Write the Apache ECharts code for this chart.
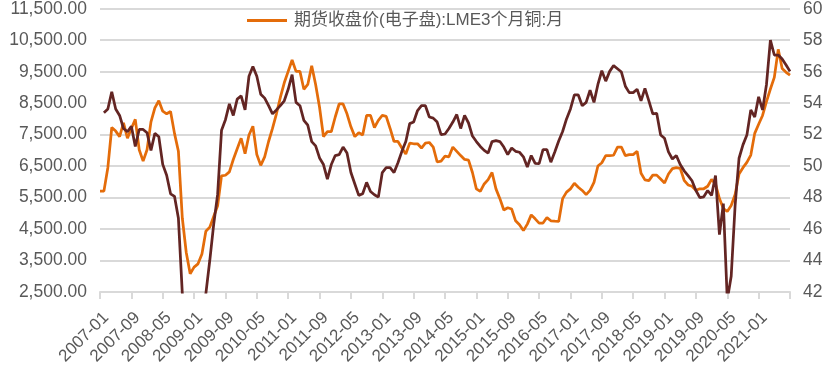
<!DOCTYPE html>
<html><head><meta charset="utf-8">
<script src="https://cdn.jsdelivr.net/npm/echarts/dist/echarts.min.js"></script>
<style>html,body{margin:0;padding:0;background:#fff}#c{width:832px;height:378px}</style>
</head><body><div id="c"></div>
<script>
// Monthly categories 2007-01 .. 2021-09
const firstYear = 2007, monthCount = 177;
const categories = [];
for (let k = 0; k < monthCount; k++) {
  const y = firstYear + Math.floor(k / 12), m = k % 12 + 1;
  categories.push(y + '-' + String(m).padStart(2, '0'));
}

const copperName = '期货收盘价(电子盘):LME3个月铜:月';
const copperPrice = [
  5705,5705,6450,7727,7612,7437,7873,7385,7696,7985,7021,6660,
  7020,7904,8349,8576,8246,8163,8234,7540,6970,4844,3755,3080,
  3290,3394,3706,4430,4560,4900,5240,6193,6210,6318,6710,7052,
  7385,6897,7488,7768,6866,6523,6794,7282,7696,8163,8681,9148,
  9510,9873,9510,9510,8940,9096,9686,9096,8371,7437,7593,7593,
  8060,8474,8474,8163,7748,7437,7562,7488,8110,8110,7727,7956,
  8110,8080,7696,7282,7282,7074,6887,7230,7210,7210,7074,7230,
  7250,7105,6630,6660,6814,6794,7105,6970,6835,6711,6690,6296,
  5777,5696,5933,6070,6296,5777,5466,5105,5176,5136,4762,4638,
  4451,4657,4950,4825,4690,4690,4865,4762,4750,4741,5466,5674,
  5777,5954,5830,5727,5592,5727,5985,6504,6607,6835,6835,6845,
  7105,7105,6835,6866,6866,6970,6275,6063,6038,6214,6214,6090,
  5964,6250,6420,6454,6430,6050,5900,5860,5730,5780,5780,5860,
  6080,5930,5470,5150,5060,5250,5600,6250,6450,6620,6850,7540,
  7830,8110,8550,8950,9320,10210,9600,9480,9390
];

const indexName = 'PMI';
const indexValue = [
  null,53.39,53.63,54.73,53.63,53.22,52.39,52.18,52.53,51.25,52.33,52.33,
  52.12,51.0,52.08,51.87,50.11,49.42,48.24,48.08,46.68,41.9,38.5,36.0,
  36.5,37.0,39.5,41.9,44.0,46.3,48.2,52.28,52.95,53.95,53.22,54.26,
  54.46,53.57,55.71,56.33,55.71,54.57,54.32,53.84,53.32,53.57,53.84,54.15,
  54.88,55.81,54.05,53.84,52.91,52.6,51.56,51.29,50.52,50.1,49.17,50.1,
  50.67,50.73,51.21,50.83,49.59,48.86,48.14,48.24,48.97,48.39,48.18,48.03,
  49.59,49.9,49.9,49.59,50.21,50.94,51.56,52.7,52.8,53.53,53.84,53.84,
  53.12,53.05,52.8,52.0,52.04,52.39,52.8,53.28,52.39,53.22,52.74,51.91,
  51.56,51.25,51.0,50.83,51.56,51.62,51.56,51.21,50.73,51.15,50.94,50.88,
  50.59,49.94,50.67,50.17,50.15,51.04,51.04,50.25,50.9,51.6,52.2,53.0,
  53.63,54.52,54.52,53.84,54.05,54.82,54.05,55.19,56.06,55.4,56.02,56.39,
  56.19,55.98,55.08,54.67,54.67,54.88,54.15,54.94,54.15,53.32,53.36,51.98,
  51.77,50.9,50.45,50.67,50.1,49.7,49.4,49.07,48.45,48.0,48.05,48.45,
  48.14,49.4,45.65,47.62,41.5,43.0,47.5,50.5,51.35,51.97,53.57,53.12,
  54.4,53.57,55.19,58.0,57.06,57.06,56.81,56.43,56.02
];

const leftAxisRange = [2500, 11500, 1000];
const rightAxisRange = [42, 60, 2];

const FONT = "'Liberation Sans', 'Noto Sans CJK SC', sans-serif";
const GRAY = '#D9D9D9';
const TXT = '#595959';

const chart = echarts.init(document.getElementById('c'), null, {renderer: 'canvas'});
chart.setOption({
  animation: false,
  textStyle: {fontFamily: FONT},
  grid: {left: 100, right: 42, top: 3, bottom: 86, containLabel: false},
  legend: {
    data: [copperName],
    left: 242, top: 7,
    icon: 'rect', itemWidth: 40, itemHeight: 3, itemGap: 10,
    textStyle: {fontFamily: FONT, fontSize: 17, color: TXT, padding: [0, 0, 0, 2]}
  },
  xAxis: {
    type: 'category',
    data: categories,
    boundaryGap: false,
    axisLine: {lineStyle: {color: GRAY, width: 2}},
    axisTick: {interval: 7, length: 7, lineStyle: {color: GRAY, width: 2}},
    axisLabel: {
      interval: (i) => i % 8 === 0 && i < categories.length - 1,
      rotate: 45, margin: 17, verticalAlign: 'top',
      fontFamily: FONT, fontSize: 17, color: TXT
    },
    splitLine: {show: false}
  },
  yAxis: [
    {
      type: 'value',
      min: leftAxisRange[0], max: leftAxisRange[1], interval: leftAxisRange[2],
      axisLine: {show: false}, axisTick: {show: false},
      axisLabel: {
        margin: 13, fontFamily: FONT, fontSize: 17.5, color: TXT,
        formatter: (v) => v.toLocaleString('en-US', {minimumFractionDigits: 2, maximumFractionDigits: 2})
      },
      splitLine: {lineStyle: {color: GRAY, width: 2}}
    },
    {
      type: 'value',
      min: rightAxisRange[0], max: rightAxisRange[1], interval: rightAxisRange[2],
      axisLine: {show: false}, axisTick: {show: false},
      axisLabel: {margin: 13, fontFamily: FONT, fontSize: 17.5, color: TXT},
      splitLine: {show: false}
    }
  ],
  series: [
    {
      name: copperName, type: 'line', yAxisIndex: 0, data: copperPrice,
      symbol: 'none', lineStyle: {color: '#E46C0A', width: 2.75}, itemStyle: {color: '#E46C0A'}
    },
    {
      name: indexName, type: 'line', yAxisIndex: 1, data: indexValue,
      symbol: 'none', lineStyle: {color: '#632523', width: 2.75}, itemStyle: {color: '#632523'}
    }
  ]
});
</script>
</body></html>
